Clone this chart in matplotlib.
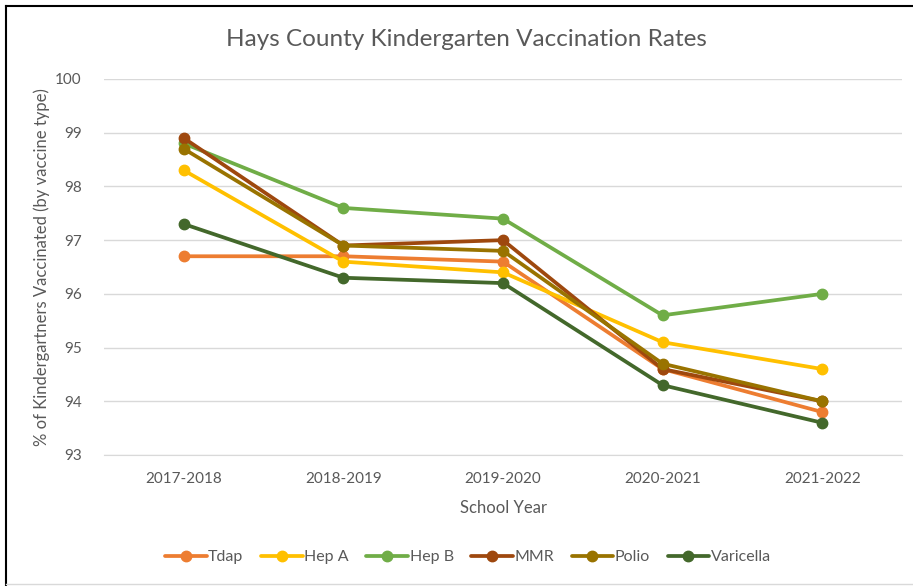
import numpy as np
import matplotlib.pyplot as plt
from matplotlib.lines import Line2D

plt.rcParams['font.family'] = ['Lato', 'DejaVu Sans']

years = ["2017-2018", "2018-2019", "2019-2020", "2020-2021", "2021-2022"]
tdap = [96.7, 96.7, 96.6, 94.6, 93.8]
hep_a = [98.3, 96.6, 96.4, 95.1, 94.6]
hep_b = [98.8, 97.6, 97.4, 95.6, 96.0]
mmr = [98.9, 96.9, 97.0, 94.6, 94.0]
polio = [98.7, 96.9, 96.8, 94.7, 94.0]
varicella = [97.3, 96.3, 96.2, 94.3, 93.6]

series = [("Tdap", tdap, "#ED7D31"),
          ("Hep A", hep_a, "#FFC000"),
          ("Hep B", hep_b, "#70AD47"),
          ("MMR", mmr, "#9E480E"),
          ("Polio", polio, "#997300"),
          ("Varicella", varicella, "#43682B")]

text_col = "#595959"

fig = plt.figure(figsize=(9.13, 5.86), dpi=100)
ax = fig.add_axes([104 / 913, 1 - 455 / 586, 798 / 913, 376 / 586])

x = np.arange(len(years))
for name, vals, col in series:
    ax.plot(x, vals, color=col, lw=2.7, marker="o", ms=7.5, label=name,
            solid_capstyle="round", solid_joinstyle="round")

ax.set_xlim(-0.5, len(years) - 0.5)
ax.set_ylim(93, 100)
ax.set_yticks(range(93, 101))
ax.set_xticks(x, years)
ax.grid(axis="y", color="#D9D9D9", lw=1)
ax.set_axisbelow(True)
for s in ["top", "right", "left"]:
    ax.spines[s].set_visible(False)
ax.spines["bottom"].set_color("#D9D9D9")
ax.tick_params(length=0, colors=text_col, labelsize=11)
ax.tick_params(axis="x", pad=12)
ax.tick_params(axis="y", pad=16)

ax.set_xlabel("School Year", color=text_col, fontsize=12, labelpad=10)
ax.set_ylabel("% of Kindergartners Vaccinated (by vaccine type)", color=text_col,
              fontsize=12, labelpad=4)
fig.text(466 / 913, 1 - 40 / 586, "Hays County Kindergarten Vaccination Rates",
         ha="center", va="center", color=text_col, fontsize=17.5)

fig.legend(loc="center", bbox_to_anchor=(468 / 913, 1 - 557 / 586), ncol=6,
           frameon=False, fontsize=11.5, labelcolor=text_col, handlelength=2.6,
           handletextpad=0.1, columnspacing=1.1)

# outer border as in the screenshot
fig.add_artist(Line2D([6 / 913, 6 / 913], [0, 1 - 6 / 586], color="black", lw=1.5))
fig.add_artist(Line2D([6 / 913, 1], [1 - 6 / 586, 1 - 6 / 586], color="black", lw=1.5))
fig.add_artist(Line2D([6 / 913, 1], [2 / 586, 2 / 586], color="#D9D9D9", lw=1))

fig.savefig("out.png", dpi=100)
